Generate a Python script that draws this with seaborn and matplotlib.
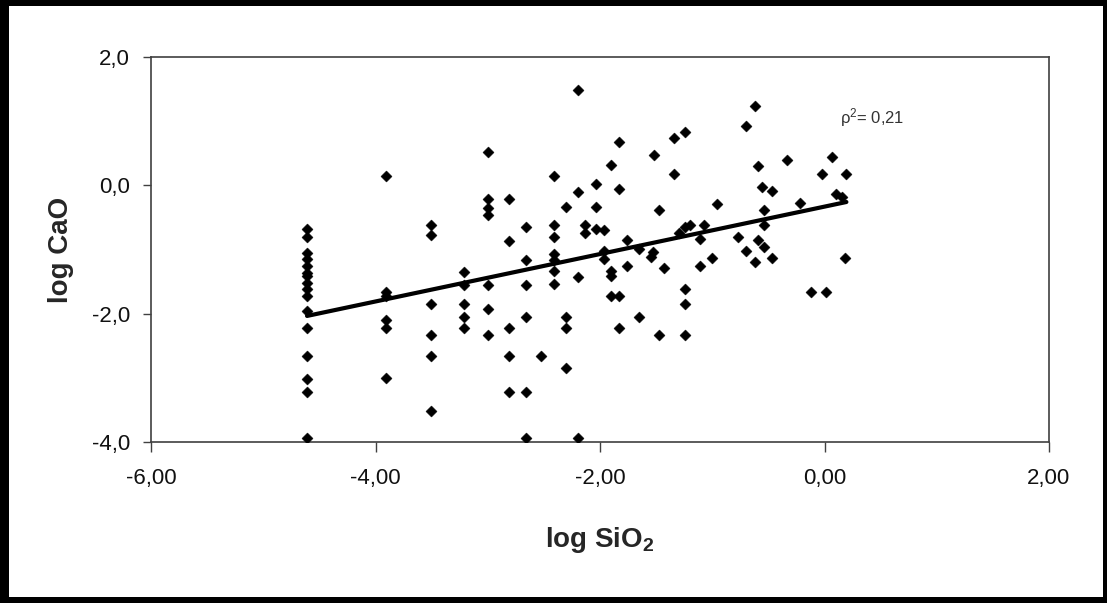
import numpy as np
import pandas as pd
import matplotlib
matplotlib.use("Agg")
import matplotlib.pyplot as plt
import matplotlib.patches as mpatches
from matplotlib.ticker import FuncFormatter, FixedLocator
import seaborn as sns

# ---- data ----
log_sio2 = [
    -4.61, -4.61, -4.61, -4.61, -4.61, -4.61, -4.61, -4.61, -4.61, -4.61, -4.61, -4.61, -4.61, -4.61, -4.61, -4.61,
    -3.91, -3.91, -3.91, -3.91, -3.91, -3.91,
    -3.51, -3.51, -3.51, -3.51, -3.51, -3.51,
    -3.21, -3.21, -3.21, -3.21, -3.21,
    -3.00, -3.00, -3.00, -3.00, -3.00, -3.00, -3.00,
    -2.81, -2.81, -2.81, -2.81, -2.81,
    -2.66, -2.66, -2.66, -2.66, -2.66, -2.66,
    -2.53,
    -2.41, -2.41, -2.41, -2.41, -2.41, -2.41, -2.41,
    -2.30, -2.30, -2.30, -2.30,
    -2.20, -2.20, -2.20, -2.20,
    -2.13, -2.13,
    -2.04, -2.04, -2.04,
    -1.96, -1.96, -1.96,
    -1.90, -1.90, -1.90, -1.90,
    -1.83, -1.83, -1.83, -1.83,
    -1.76, -1.76,
    -1.655, -1.655,
    -1.55, -1.53, -1.52,
    -1.47, -1.47,
    -1.43,
    -1.34, -1.34,
    -1.30,
    -1.24, -1.24, -1.24, -1.24, -1.24,
    -1.20,
    -1.11, -1.11,
    -1.07, -1.00, -0.96,
    -0.77, -0.70, -0.695,
    -0.62, -0.62,
    -0.59, -0.59,
    -0.555,
    -0.54, -0.54, -0.54,
    -0.465, -0.465,
    -0.33, -0.22, -0.12, -0.025, 0.017, 0.07, 0.105, 0.16, 0.195, 0.18,
]
log_cao = [
    -0.68, -0.80, -1.05, -1.15, -1.25, -1.36, -1.41, -1.52, -1.62, -1.72, -1.96, -2.22, -2.66, -3.02, -3.22, -3.93,
    0.14, -1.67, -1.72, -2.10, -2.22, -3.01,
    -0.625, -0.78, -1.85, -2.33, -2.66, -3.52,
    -1.35, -1.56, -1.85, -2.05, -2.22,
    0.52, -0.21, -0.36, -0.47, -1.56, -1.92, -2.33,
    -0.22, -0.86, -2.22, -2.66, -3.22,
    -0.65, -1.16, -1.56, -2.05, -3.22, -3.93,
    -2.66,
    0.14, -0.625, -0.81, -1.07, -1.17, -1.33, -1.54,
    -0.33, -2.05, -2.22, -2.84,
    1.48, -0.11, -1.43, -3.93,
    -0.625, -0.74,
    0.02, -0.33, -0.68,
    -0.70, -1.02, -1.15,
    0.31, -1.33, -1.41, -1.72,
    0.68, -0.06, -1.72, -2.22,
    -0.85, -1.26,
    -0.99, -2.05,
    -1.12, -1.04, 0.47,
    -0.39, -2.33,
    -1.29,
    0.73, 0.17,
    -0.745,
    0.83, -0.65, -1.61, -1.85, -2.33,
    -0.62,
    -0.83, -1.26,
    -0.62, -1.13, -0.29,
    -0.80, -1.03, 0.93,
    1.23, -1.20,
    0.30, -0.85,
    -0.03,
    -0.39, -0.625, -0.96,
    -0.09, -1.13,
    0.40, -0.27, -1.67, 0.17, -1.67, 0.44, -0.13, -0.18, 0.17, -1.13,
]
x_ticks = [-6, -4, -2, 0, 2]
y_ticks = [-4, -2, 0, 2]
x_label = "log SiO$_{\\mathbf{2}}$"
y_label = "log CaO"
annotation = "ρ$^{2}$= 0,21"

df = pd.DataFrame({"log_sio2": log_sio2, "log_cao": log_cao})

sns.set_theme(style="ticks")
plt.rcParams["font.family"] = ["Liberation Sans", "DejaVu Sans"]
plt.rcParams["mathtext.fontset"] = "custom"
plt.rcParams["mathtext.rm"] = "Liberation Sans"
plt.rcParams["mathtext.bf"] = "Liberation Sans:bold"
plt.rcParams["mathtext.it"] = "Liberation Sans:italic"

fig = plt.figure(figsize=(11.07, 6.03), dpi=100)
fig.patch.set_facecolor("black")
W, H = 1107, 603
fig.patches.append(mpatches.Rectangle((9 / W, 6 / H), (1103 - 9) / W, (597 - 6) / H,
                                      transform=fig.transFigure, facecolor="white",
                                      edgecolor="none", zorder=-10))

ax = fig.add_axes([151 / W, 1 - 442 / H, (1049 - 151) / W, (442 - 57) / H])
ax.set_facecolor("white")

sns.scatterplot(data=df, x="log_sio2", y="log_cao", ax=ax, marker="D", s=32,
                color="black", edgecolor="black", linewidth=0.3, zorder=3)
sns.regplot(data=df, x="log_sio2", y="log_cao", ax=ax, scatter=False, ci=None,
            line_kws={"color": "black", "linewidth": 3.0, "zorder": 4})

ax.set_xlim(-6, 2)
ax.set_ylim(-4, 2)
ax.xaxis.set_major_locator(FixedLocator(x_ticks))
ax.yaxis.set_major_locator(FixedLocator(y_ticks))
ax.xaxis.set_major_formatter(FuncFormatter(lambda v, p: f"{v:.2f}".replace(".", ",")))
ax.yaxis.set_major_formatter(FuncFormatter(lambda v, p: f"{v:.1f}".replace(".", ",")))

spine_col = "#404040"
for sp in ax.spines.values():
    sp.set_visible(True)
    sp.set_color(spine_col)
    sp.set_linewidth(1.2)
ax.tick_params(axis="x", direction="out", length=7, width=1.0, color=spine_col,
               labelsize=16, pad=12, labelcolor="#111111")
ax.tick_params(axis="y", direction="out", length=6, width=1.0, color=spine_col,
               labelsize=16, pad=9, labelcolor="#111111")

ax.set_xlabel(x_label, fontsize=20, fontweight="bold")
ax.set_ylabel(y_label, fontsize=20, fontweight="bold")
ax.xaxis.set_label_coords(0.5, -0.215)
ax.yaxis.set_label_coords(-0.086, 0.5)

ax.text(0.135, 1.05, annotation, fontsize=12, color="#333333", va="center", ha="left")

fig.savefig("out.png", dpi=100, facecolor=fig.get_facecolor())
